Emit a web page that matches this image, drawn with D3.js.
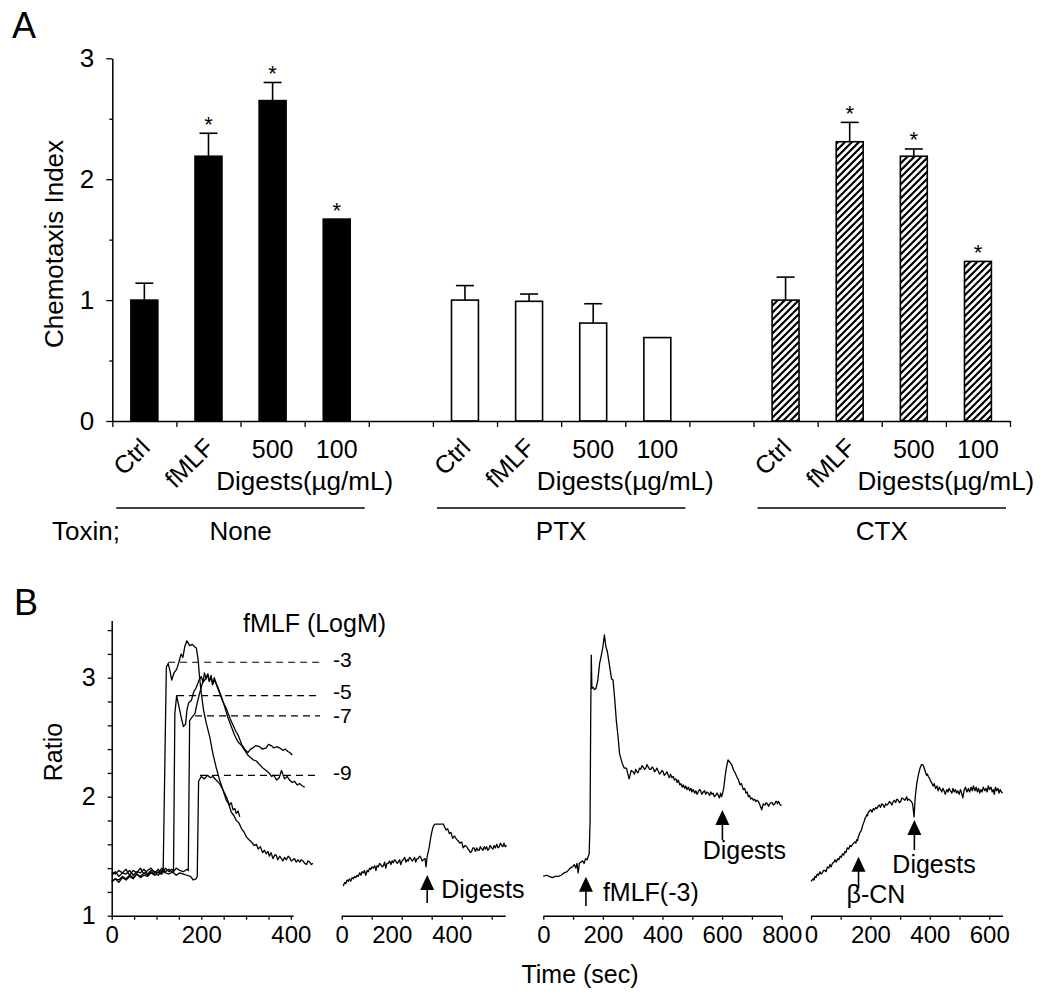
<!DOCTYPE html>
<html><head><meta charset="utf-8">
<script src="https://cdn.jsdelivr.net/npm/d3@7/dist/d3.min.js"></script>
<style>
html,body{margin:0;padding:0;background:#fff;}
svg text{font-family:"Liberation Sans",Arial,Helvetica,sans-serif;fill:#000;}
</style></head><body>
<svg id="chart" width="1050" height="1000"></svg>
<script>
// ---------------- Panel A data ----------------
const conditions = ["Ctrl", "fMLF", "500", "100"];
const toxins = ["None", "PTX", "CTX"];
const noneMean = [1.00, 2.19, 2.65, 1.67];
const noneErr  = [0.14, 0.19, 0.15, 0.00];
const ptxMean  = [1.00, 0.99, 0.81, 0.69];
const ptxErr   = [0.12, 0.06, 0.16, 0.00];
const ctxMean  = [1.00, 2.31, 2.19, 1.32];
const ctxErr   = [0.19, 0.16, 0.06, 0.00];
const noneSig  = [false, true, true, true];
const ptxSig   = [false, false, false, false];
const ctxSig   = [false, true, true, true];
const yTicksA  = [0, 1, 2, 3];
const yMinorA  = [0.5, 1.5, 2.5];

// ---------------- Panel B data ([time s, ratio]) ----------------
const fmlf3Trace = [[0,1.29],[8,1.31],[16,1.28],[24,1.32],[32,1.30],[40,1.33],[48,1.31],[56,1.35],[64,1.32],[72,1.34],[80,1.33],[88,1.36],[96,1.34],[104,1.37],[110,1.35],[115,1.39],[122,3.09],[126,3.12],[130,3.06],[134,2.98],[139,3.04],[145,3.07],[150,3.13],[155,3.20],[159,3.17],[163,3.26],[168,3.31],[174,3.27],[180,3.28],[185,3.26],[189,3.25],[193,3.15],[196,3.01],[200,2.87],[205,2.73],[211,2.62],[219,2.50],[226,2.36],[233,2.25],[241,2.14],[248,2.06],[256,1.97],[262,1.93],[267,1.87],[273,1.84],[278,1.80],[284,1.78],[290,1.73],[296,1.70],[301,1.66],[306,1.64],[312,1.62],[318,1.59],[323,1.60],[327,1.56],[332,1.58],[337,1.53],[341,1.55],[345,1.52],[349,1.54],[352,1.50],[356,1.53],[360,1.48],[364,1.51],[367,1.51],[371,1.47],[375,1.50],[379,1.48],[382,1.46],[386,1.49],[390,1.47],[394,1.50],[397,1.49],[401,1.46],[405,1.47],[408,1.48],[412,1.45],[416,1.47],[420,1.45],[423,1.47],[427,1.46],[431,1.44],[435,1.43],[438,1.46],[442,1.45],[446,1.43],[449,1.44]];
const fmlf5Trace = [[0,1.37],[8,1.35],[16,1.38],[24,1.36],[32,1.39],[40,1.34],[48,1.38],[56,1.36],[64,1.40],[72,1.35],[80,1.38],[88,1.40],[96,1.36],[104,1.39],[112,1.35],[120,1.40],[128,1.37],[134,1.39],[138,1.38],[141,2.70],[145,2.85],[150,2.76],[155,2.67],[160,2.59],[165,2.61],[168,2.73],[172,2.79],[178,2.81],[183,2.88],[189,2.92],[195,2.98],[200,3.01],[204,2.96],[207,3.04],[211,2.99],[215,3.03],[218,2.97],[222,3.00],[226,2.95],[230,2.98],[237,2.92],[245,2.84],[252,2.76],[259,2.67],[267,2.59],[274,2.52],[282,2.46],[290,2.43],[297,2.39],[304,2.35],[310,2.33],[316,2.31],[323,2.30],[330,2.27],[338,2.24],[345,2.22],[351,2.20],[357,2.17],[362,2.18],[368,2.14],[374,2.16],[379,2.22],[386,2.15],[392,2.17],[397,2.14],[403,2.12],[408,2.13],[414,2.10],[420,2.11],[426,2.09],[431,2.08]];
const fmlf7Trace = [[0,1.34],[8,1.37],[16,1.33],[24,1.36],[32,1.35],[40,1.38],[48,1.34],[56,1.37],[64,1.36],[72,1.39],[80,1.35],[88,1.38],[96,1.37],[104,1.36],[112,1.40],[120,1.37],[128,1.39],[136,1.36],[144,1.40],[152,1.38],[160,1.37],[168,1.39],[171,1.38],[174,2.64],[180,2.67],[186,2.70],[191,2.79],[197,2.88],[203,2.96],[210,2.99],[214,3.03],[218,2.97],[222,3.02],[225,2.94],[229,3.00],[233,2.95],[237,2.91],[240,2.88],[244,2.84],[248,2.80],[256,2.74],[264,2.66],[271,2.60],[277,2.55],[282,2.52],[290,2.44],[297,2.40],[304,2.37],[310,2.40],[315,2.41],[322,2.43],[330,2.42],[337,2.40],[345,2.41],[350,2.44],[356,2.43],[362,2.41],[368,2.42],[375,2.41],[382,2.39],[388,2.40],[393,2.38],[398,2.37],[403,2.35]];
const fmlf9Trace = [[0,1.28],[8,1.31],[16,1.30],[24,1.33],[32,1.31],[40,1.34],[48,1.32],[56,1.35],[64,1.33],[72,1.36],[80,1.34],[88,1.37],[96,1.35],[104,1.34],[112,1.38],[120,1.36],[128,1.35],[136,1.37],[144,1.34],[152,1.36],[160,1.35],[168,1.34],[176,1.33],[182,1.30],[188,1.31],[191,1.33],[194,2.13],[200,2.17],[207,2.15],[214,2.18],[220,2.16],[226,2.17],[233,2.14],[241,2.11],[248,2.06],[256,2.00],[263,1.93],[267,1.95],[271,1.89],[275,1.90],[278,1.86],[282,1.88],[286,1.83]];
const digestsTrace = [[5,1.25],[10,1.28],[14,1.27],[18,1.30],[22,1.29],[26,1.31],[30,1.29],[35,1.32],[39,1.31],[43,1.33],[47,1.32],[51,1.34],[55,1.33],[60,1.36],[64,1.34],[68,1.37],[72,1.36],[76,1.38],[80,1.34],[85,1.38],[89,1.37],[93,1.40],[97,1.39],[101,1.41],[105,1.40],[110,1.42],[114,1.38],[118,1.42],[122,1.41],[126,1.44],[130,1.43],[135,1.41],[139,1.42],[143,1.45],[147,1.40],[151,1.44],[155,1.44],[160,1.46],[164,1.43],[168,1.46],[172,1.445],[176,1.47],[180,1.46],[185,1.44],[189,1.45],[193,1.47],[197,1.43],[201,1.46],[205,1.47],[210,1.49],[214,1.45],[218,1.47],[222,1.46],[226,1.49],[230,1.48],[235,1.46],[239,1.47],[243,1.49],[247,1.45],[251,1.48],[255,1.48],[260,1.50],[264,1.49],[268,1.46],[272,1.47],[278,1.48],[281,1.41],[285,1.50],[289,1.54],[292,1.58],[297,1.66],[301,1.71],[305,1.75],[311,1.77],[320,1.77],[328,1.77],[334,1.77],[339,1.77],[344,1.74],[348,1.72],[353,1.73],[359,1.69],[364,1.70],[370,1.65],[376,1.67],[383,1.64],[388,1.63],[394,1.61],[400,1.62],[405,1.57],[411,1.59],[417,1.58],[421,1.56],[425,1.55],[429,1.53],[433,1.54],[437,1.57],[441,1.57],[446,1.54],[450,1.57],[454,1.55],[458,1.55],[462,1.58],[467,1.56],[471,1.55],[475,1.58],[479,1.56],[483,1.58],[487,1.55],[491,1.56],[495,1.59],[500,1.57],[504,1.56],[508,1.59],[512,1.57],[517,1.60],[521,1.57],[525,1.58],[529,1.61],[533,1.59],[537,1.58],[541,1.61],[545,1.58],[550,1.59]];
const fmlfDigestsTrace = [[0,1.33],[10,1.34],[20,1.33],[30,1.32],[40,1.33],[50,1.33],[60,1.34],[70,1.36],[80,1.37],[90,1.40],[98,1.41],[104,1.43],[109,1.40],[113,1.44],[117,1.36],[121,1.44],[126,1.45],[132,1.46],[137,1.44],[142,1.48],[147,1.47],[151,1.50],[154,1.52],[157,1.80],[159,2.64],[161,3.19],[163,2.91],[167,2.92],[172,2.90],[177,2.91],[183,2.98],[189,3.12],[194,3.18],[200,3.26],[205,3.36],[210,3.26],[215,3.22],[221,3.12],[229,2.99],[234,2.98],[240,2.81],[245,2.64],[251,2.50],[256,2.36],[265,2.28],[272,2.24],[279,2.24],[288,2.15],[295,2.22],[301,2.21],[306,2.19],[310,2.23],[314,2.21],[318,2.20],[323,2.24],[327,2.23],[331,2.26],[335,2.25],[340,2.23],[344,2.24],[348,2.27],[352,2.25],[357,2.23],[361,2.23],[365,2.25],[369,2.24],[373,2.21],[377,2.22],[381,2.24],[385,2.22],[390,2.19],[394,2.20],[398,2.22],[402,2.21],[406,2.18],[410,2.19],[415,2.21],[419,2.18],[423,2.16],[427,2.19],[431,2.16],[436,2.17],[440,2.14],[445,2.15],[449,2.12],[453,2.14],[458,2.10],[462,2.11],[466,2.08],[470,2.10],[474,2.07],[478,2.09],[482,2.06],[487,2.08],[491,2.05],[495,2.07],[499,2.04],[503,2.06],[508,2.03],[512,2.05],[516,2.02],[520,2.04],[524,2.06],[528,2.05],[532,2.02],[537,2.04],[541,2.05],[545,2.02],[549,2.04],[554,2.03],[558,2.01],[562,2.04],[566,2.02],[570,2.03],[574,2.00],[578,2.01],[583,2.03],[587,2.01],[591,1.99],[595,2.03],[598,2.00],[602,2.03],[606,2.08],[610,2.17],[615,2.25],[620,2.31],[626,2.29],[632,2.27],[639,2.22],[644,2.20],[649,2.17],[655,2.14],[660,2.10],[665,2.11],[671,2.06],[676,2.07],[680,2.03],[684,2.04],[688,2.00],[692,2.01],[696,1.98],[700,1.99],[705,1.97],[709,1.98],[713,1.96],[717,1.97],[722,1.96],[727,1.93],[733,1.89],[738,1.94],[744,1.93],[748,1.95],[752,1.94],[756,1.92],[760,1.94],[764,1.95],[768,1.95],[772,1.93],[777,1.94],[780,1.96],[783,1.96],[786,1.94],[789,1.96],[792,1.95],[795,1.93],[800,1.93]];
const betaCnTrace = [[0,1.29],[4,1.30],[7,1.31],[10,1.30],[13,1.33],[17,1.32],[21,1.35],[25,1.34],[30,1.37],[34,1.35],[38,1.36],[42,1.38],[47,1.38],[51,1.37],[55,1.41],[60,1.40],[64,1.43],[68,1.41],[72,1.44],[77,1.45],[81,1.47],[85,1.45],[90,1.48],[94,1.47],[98,1.50],[102,1.49],[106,1.52],[110,1.51],[114,1.54],[118,1.53],[122,1.57],[127,1.56],[131,1.59],[135,1.58],[140,1.60],[144,1.61],[148,1.62],[151,1.61],[154,1.64],[157,1.63],[159,1.66],[162,1.68],[165,1.70],[168,1.71],[171,1.73],[174,1.76],[177,1.78],[180,1.80],[182,1.82],[185,1.83],[188,1.85],[190,1.84],[193,1.87],[197,1.88],[201,1.89],[205,1.87],[210,1.90],[214,1.89],[218,1.91],[222,1.90],[226,1.92],[230,1.93],[234,1.91],[238,1.94],[243,1.93],[247,1.91],[251,1.94],[255,1.93],[260,1.94],[264,1.96],[268,1.95],[272,1.93],[277,1.96],[281,1.97],[285,1.95],[289,1.98],[294,1.97],[298,1.95],[302,1.96],[306,1.99],[311,1.98],[316,1.97],[322,2.00],[325,1.97],[328,1.98],[333,1.97],[338,1.96],[342,1.94],[347,1.83],[351,2.00],[356,2.11],[361,2.18],[367,2.24],[372,2.27],[376,2.27],[380,2.25],[385,2.21],[389,2.18],[392,2.19],[395,2.17],[400,2.15],[403,2.13],[406,2.12],[411,2.09],[415,2.11],[419,2.07],[424,2.09],[428,2.05],[432,2.08],[436,2.06],[440,2.04],[444,2.07],[448,2.05],[452,2.02],[457,2.06],[461,2.04],[465,2.07],[469,2.05],[474,2.03],[478,2.07],[482,2.04],[486,2.06],[490,2.03],[494,2.05],[499,2.02],[503,2.06],[507,2.03],[511,1.99],[516,2.06],[520,2.08],[525,2.04],[530,2.07],[534,2.04],[539,2.08],[543,2.05],[547,2.09],[552,2.05],[556,2.08],[560,2.04],[564,2.07],[568,2.03],[572,2.06],[576,2.04],[580,2.08],[585,2.05],[589,2.07],[593,2.04],[597,2.09],[601,2.06],[606,2.08],[610,2.04],[614,2.06],[617,2.02],[621,2.08],[625,2.05],[629,2.07],[633,2.03],[637,2.06],[641,2.04],[645,2.03]];
const doseLevels = [3.13, 2.85, 2.68, 2.18];
const doseLabels = ["-3", "-5", "-7", "-9"];
const doseStart  = [126, 146, 186, 197];
const doseLabelShift = [5, 3, 7, 5];
const yTicksB = [1, 1.2, 1.4, 1.6, 1.8, 2, 2.2, 2.4, 2.6, 2.8, 3, 3.2, 3.4];
const xTicks1 = [0, 50, 100, 150, 200, 250, 300, 350, 400];
const xTicks2 = [0, 100, 200, 300, 400, 500];
const xTicks3 = [0, 100, 200, 300, 400, 500, 600, 700, 800];
const xTicks4 = [0, 100, 200, 300, 400, 500, 600];

const svg = d3.select("#chart");
const FONT = '"Liberation Sans",Arial,Helvetica,sans-serif';
function styleAxis(g, fs) {
  g.attr("font-family", FONT).attr("font-size", fs);
  g.selectAll("path.domain").attr("stroke", "#000").attr("stroke-width", 1.5);
  g.selectAll(".tick line").attr("stroke", "#000").attr("stroke-width", 1.3);
  g.selectAll(".tick text").attr("fill", "#000");
}

// hatch pattern
const defs = svg.append("defs");
const pat = defs.append("pattern").attr("id", "hatch").attr("patternUnits", "userSpaceOnUse")
  .attr("width", 7).attr("height", 7);
pat.append("rect").attr("width", 7).attr("height", 7).attr("fill", "#fff");
pat.append("path").attr("d", "M-2,2 L2,-2 M0,7 L7,0 M5,9 L9,5")
  .attr("stroke", "#000").attr("stroke-width", 2.2);

// ================= Panel A =================
const xA = d3.scaleLinear().domain([0, 14]).range([112.3, 1010]);
const yA = d3.scaleLinear().domain([0, 3]).range([421, 58.3]);
const means = [noneMean, ptxMean, ctxMean];
const errs = [noneErr, ptxErr, ctxErr];
const sigs = [noneSig, ptxSig, ctxSig];
const fills = ["#000", "#fff", "url(#hatch)"];
const bars = [];
toxins.forEach((tx, g) => conditions.forEach((c, i) => bars.push({
  g, i, slot: g * 5 + i, label: c, mean: means[g][i], err: errs[g][i], sig: sigs[g][i]
})));
const step = xA(1) - xA(0);
const bw = step * 0.42;
const A = svg.append("g");

A.selectAll("rect.bar").data(bars).join("rect").attr("class", "bar")
  .attr("x", d => xA(d.slot + 0.5) - bw / 2)
  .attr("y", d => yA(d.mean))
  .attr("width", bw)
  .attr("height", d => yA(0) - yA(d.mean))
  .attr("fill", d => fills[d.g]).attr("stroke", "#000").attr("stroke-width", 1.6);

const eb = bars.filter(d => d.err > 0);
A.selectAll("line.ev").data(eb).join("line")
  .attr("x1", d => xA(d.slot + 0.5)).attr("x2", d => xA(d.slot + 0.5))
  .attr("y1", d => yA(d.mean)).attr("y2", d => yA(d.mean + d.err))
  .attr("stroke", "#000").attr("stroke-width", 1.6);
A.selectAll("line.ec").data(eb).join("line")
  .attr("x1", d => xA(d.slot + 0.5) - 9).attr("x2", d => xA(d.slot + 0.5) + 9)
  .attr("y1", d => yA(d.mean + d.err)).attr("y2", d => yA(d.mean + d.err))
  .attr("stroke", "#000").attr("stroke-width", 1.6);
A.selectAll("text.star").data(bars.filter(d => d.sig)).join("text")
  .attr("x", d => xA(d.slot + 0.5)).attr("y", d => yA(d.mean + d.err) - 1.5)
  .attr("text-anchor", "middle").attr("font-size", 22).text("*");

// axes
const gyA = A.append("g").attr("transform", `translate(${xA(0)},0)`)
  .call(d3.axisLeft(yA).tickValues(yTicksA).tickSize(6).tickSizeOuter(0).tickPadding(12).tickFormat(d3.format("d")));
styleAxis(gyA, 26);
const gyA2 = A.append("g").attr("transform", `translate(${xA(0)},0)`)
  .call(d3.axisLeft(yA).tickValues(yMinorA).tickSize(3).tickSizeOuter(0).tickFormat(""));
styleAxis(gyA2, 26);
gyA2.select("path.domain").remove();
const gxA = A.append("g").attr("transform", `translate(0,${yA(0)})`)
  .call(d3.axisBottom(xA).tickValues(d3.range(15)).tickSize(6).tickSizeOuter(0).tickFormat(""));
styleAxis(gxA, 25);

// category labels
bars.forEach(d => {
  const cx = xA(d.slot + 0.5);
  if (d.i < 2) {
    A.append("text").attr("transform", `translate(${cx + 7},449) rotate(-45)`)
      .attr("text-anchor", "end").attr("font-size", 25).text(d.label);
  } else {
    A.append("text").attr("x", cx).attr("y", 458).attr("text-anchor", "middle")
      .attr("font-size", 25).text(d.label);
  }
});
toxins.forEach((tx, g) => {
  A.append("text").attr("x", xA(g * 5 + 3)).attr("y", 490).attr("text-anchor", "middle")
    .attr("font-size", 26).text("Digests(\u00b5g/mL)");
  A.append("line").attr("x1", xA(g * 5) + 4).attr("x2", xA(g * 5 + 4) - 4)
    .attr("y1", 508).attr("y2", 508).attr("stroke", "#000").attr("stroke-width", 1.5);
  A.append("text").attr("x", xA(g * 5 + 2)).attr("y", 540).attr("text-anchor", "middle")
    .attr("font-size", 26).text(tx);
});
A.append("text").attr("x", 52).attr("y", 540).attr("font-size", 26).text("Toxin;");
A.append("text").attr("transform", "translate(63,244) rotate(-90)").attr("text-anchor", "middle")
  .attr("font-size", 26).text("Chemotaxis Index");
A.append("text").attr("x", 12).attr("y", 38).attr("font-size", 36).text("A");

// ================= Panel B =================
const B = svg.append("g");
const yB = d3.scaleLinear().domain([1, 3.48]).range([915.7, 620.6]);
const subplots = [
  { x: d3.scaleLinear().domain([0, 405]).range([111.7, 293.1]), ticks: xTicks1, labelEvery: 200, dx: 0,
    traces: [fmlf3Trace, fmlf5Trace, fmlf7Trace, fmlf9Trace] },
  { x: d3.scaleLinear().domain([0, 545]).range([341.7, 505.2]), ticks: xTicks2, labelEvery: 200, dx: -10,
    traces: [digestsTrace] },
  { x: d3.scaleLinear().domain([0, 800]).range([543.3, 781.7]), ticks: xTicks3, labelEvery: 200, dx: 0,
    traces: [fmlfDigestsTrace] },
  { x: d3.scaleLinear().domain([0, 645]).range([811, 1002.6]), ticks: xTicks4, labelEvery: 200, dx: 0,
    traces: [betaCnTrace] }
];
subplots.forEach((sp, k) => {
  const line = d3.line().x(d => sp.x(d[0])).y(d => yB(d[1]));
  B.selectAll(null).data(sp.traces).join("path").attr("d", line)
    .attr("fill", "none").attr("stroke", "#000").attr("stroke-width", 1.3).attr("stroke-linejoin", "round");
  const gx = B.append("g").attr("transform", `translate(0,${yB(1)})`)
    .call(d3.axisBottom(sp.x).tickValues(sp.ticks).tickSize(4).tickSizeOuter(0)
      .tickFormat(v => v % sp.labelEvery === 0 ? String(v) : ""));
  styleAxis(gx, 24);
  gx.selectAll(".tick text").attr("y", 27).attr("dy", 0)
    .attr("dx", v => (v > 0 ? sp.dx : 0));
});
const gyB = B.append("g").attr("transform", `translate(111.7,0)`)
  .call(d3.axisLeft(yB).tickValues(yTicksB).tickSize(4).tickSizeOuter(0).tickPadding(12)
    .tickFormat(v => Number.isInteger(v) ? String(v) : ""));
styleAxis(gyB, 25);

// dose dashed lines
const x1 = subplots[0].x;
doseLevels.forEach((lv, i) => {
  B.append("line").attr("x1", x1(doseStart[i])).attr("x2", x1(465))
    .attr("y1", yB(lv)).attr("y2", yB(lv))
    .attr("stroke", "#000").attr("stroke-width", 1.2).attr("stroke-dasharray", "7,5");
  B.append("text").attr("x", 333).attr("y", yB(lv) + doseLabelShift[i]).attr("font-size", 21).text(doseLabels[i]);
});
B.append("text").attr("x", 243).attr("y", 632).attr("font-size", 25).text("fMLF (LogM)");

// arrows
const arrows = [
  { sp: 1, t: 285, tip: 1.342, bot: 1.107, label: "Digests", lx: 14, ly: 898, anchor: "start" },
  { sp: 2, t: 143, tip: 1.328, bot: 1.082, label: "fMLF(-3)", lx: 17, ly: 901, anchor: "start" },
  { sp: 2, t: 601, tip: 1.888, bot: 1.636, label: "Digests", lx: 22, ly: 859, anchor: "middle" },
  { sp: 3, t: 160, tip: 1.496, bot: 1.233, label: "\u03b2-CN", lx: -12, ly: 903, anchor: "start" },
  { sp: 3, t: 348, tip: 1.804, bot: 1.552, label: "Digests", lx: -22, ly: 873, anchor: "start" }
];
arrows.forEach(a => {
  const ax = subplots[a.sp].x(a.t), yt = yB(a.tip), yb = yB(a.bot);
  B.append("line").attr("x1", ax).attr("x2", ax).attr("y1", yt + 10).attr("y2", yb)
    .attr("stroke", "#000").attr("stroke-width", 1.6);
  B.append("path").attr("d", `M${ax},${yt} L${ax - 7},${yt + 15} L${ax + 7},${yt + 15} Z`).attr("fill", "#000");
  B.append("text").attr("x", ax + a.lx).attr("y", a.ly).attr("text-anchor", a.anchor)
    .attr("font-size", 25).text(a.label);
});

B.append("text").attr("transform", "translate(62,752) rotate(-90)").attr("text-anchor", "middle")
  .attr("font-size", 25).text("Ratio");
B.append("text").attr("x", 580).attr("y", 983).attr("text-anchor", "middle").attr("font-size", 25).text("Time (sec)");
B.append("text").attr("x", 14).attr("y", 615).attr("font-size", 36).text("B");
</script>
</body></html>
